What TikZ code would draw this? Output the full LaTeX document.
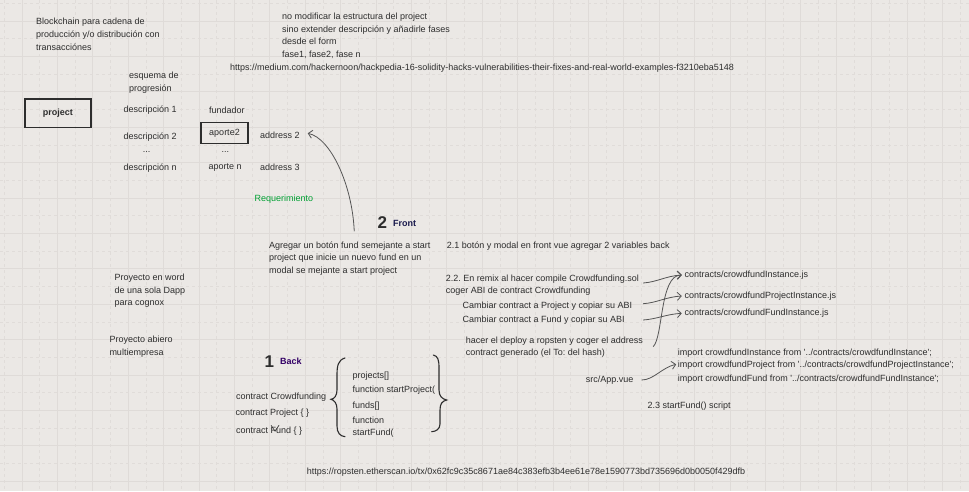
\documentclass[tikz,border=0pt]{standalone}
\usepackage{fontspec}
\setmainfont{Liberation Sans}
\usepackage{xcolor}
\usetikzlibrary{positioning,calc,arrows.meta}

\definecolor{paper}{RGB}{235,232,229}
\definecolor{gridsolid}{RGB}{223,219,216}
\definecolor{griddash}{RGB}{224,220,217}
\definecolor{ink}{RGB}{45,45,45}
\definecolor{reqgreen}{RGB}{0,160,50}
\definecolor{backpurple}{RGB}{51,0,102}
\definecolor{frontblue}{RGB}{26,26,77}
\definecolor{arrowgray}{RGB}{85,85,85}

\begin{document}
\frenchspacing
\begin{tikzpicture}[x=1pt,y=-1pt,
    txt/.style={anchor=west, inner sep=0pt, text=ink, align=left, font=\fontsize{9}{12.8}\selectfont},
    dots/.style={txt, anchor=center},
    boxed/.style={draw=ink, line width=1.5pt, inner sep=0pt, text=ink},
    bignum/.style={inner sep=0pt, text=ink, font=\fontsize{17}{17}\selectfont\bfseries},
    title/.style={txt, font=\fontsize{9}{11}\selectfont\bfseries},
    arr/.style={draw=arrowgray, line width=0.8pt, -{Straight Barb[length=4pt,width=8pt]}},
    brace/.style={draw=ink, line width=1.1pt, line cap=round}]
    % Paper
    \useasboundingbox (0,0) rectangle (969,491);
    \fill[paper] (0,0) rectangle (969,491);
    \foreach \k in {0,...,27} {
        \draw[gridsolid, line width=0.8pt] ({22+35.4*\k},0) -- ({22+35.4*\k},491);
        \draw[griddash, line width=0.6pt, dash pattern=on 3pt off 3pt] ({39.7+35.4*\k},0) -- ({39.7+35.4*\k},491);
    }
    \draw[griddash, line width=0.6pt, dash pattern=on 3pt off 3pt] (4.3,0) -- (4.3,491);
    \foreach \k in {0,...,13} {
        \draw[gridsolid, line width=0.8pt] (0,{21+35.4*\k}) -- (969,{21+35.4*\k});
        \draw[griddash, line width=0.6pt, dash pattern=on 3pt off 3pt] (0,{3.3+35.4*\k}) -- (969,{3.3+35.4*\k});
    }

    % Notes on top
    \node[txt] (chain) at (36,34) {Blockchain para cadena de\\producción y/o distribución con\\transacciónes};
    \node[txt] (nomod) at (282,35.8) {no modificar la estructura del project\\sino extender descripción y añadirle fases\\desde el form\\fase1, fase2, fase n};
    \node[txt] (medium) at (230,67.7) {https://medium.com/hackernoon/hackpedia-16-solidity-hacks-vulnerabilities-their-fixes-and-real-world-examples-f3210eba5148};

    % Project scheme
    \node[txt] (esquema) at (129,82.5) {esquema de\\progresión};
    \node[boxed, minimum width=65.7pt, minimum height=28.3pt, font=\fontsize{9}{11}\selectfont\bfseries] (project) at (57.9,113.2) {project};
    \node[txt] (desc1) at (123.3,110) {descripción 1};
    \node[txt] (desc2) at (123.3,136.7) {descripción 2};
    \node[dots] (dotsa) at (146.7,151.7) {...};
    \node[txt] (descn) at (123.3,167.7) {descripción n};
    \node[txt] (fundador) at (209,110) {fundador};
    \node[boxed, minimum width=47pt, minimum height=21pt, font=\fontsize{9}{11}\selectfont] (aporte2) at (224.5,133.2) {aporte2};
    \node[dots] (dotsb) at (225.3,151.7) {...};
    \node[txt] (aporten) at (208.3,167.7) {aporte n};
    \node[txt] (addr2) at (260,135) {address 2};
    \node[txt] (addr3) at (260,167.7) {address 3};
    \node[txt, text=reqgreen] (req) at (254.3,199.3) {Requerimiento};

    % Front
    \node[bignum] (two) at (382.3,222.7) {2};
    \node[title, text=frontblue] (front) at (393,223.7) {Front};
    \node[txt] (agregar) at (269,258.5) {Agregar un botón fund semejante a start\\project que inicie un nuevo fund en un\\modal se mejante a start project};
    \draw[arr] ($(agregar.north)+(4.5,-10)$) .. controls +(-2,-46.7) and +(22.7,4.7) .. ($(addr2.east)+(7.8,-1.7)$);

    \node[txt] (s21) at (446.7,245.7) {2.1 botón y modal en front vue agregar 2 variables back};
    \node[txt] (s22a) at (445.7,279) {2.2. En remix al hacer compile Crowdfunding.sol};
    \node[txt] (s22b) at (445.7,290.7) {coger ABI de contract Crowdfunding};
    \node[txt] (cproj) at (462.3,305.7) {Cambiar contract a Project y copiar su ABI};
    \node[txt] (cfund) at (462.3,320) {Cambiar contract a Fund y copiar su ABI};
    \node[txt] (deploy) at (465.7,341) {hacer el deploy a ropsten y coger el address};
    \node[txt] (deployb) at (465.7,352.7) {contract generado (el To: del hash)};

    \node[txt] (ci) at (684.3,275) {contracts/crowdfundInstance.js};
    \node[txt] (cpi) at (684.3,296) {contracts/crowdfundProjectInstance.js};
    \node[txt] (cfi) at (684.3,313.3) {contracts/crowdfundFundInstance.js};
    \draw[arr] ($(s22a.east)+(4,4)$) .. controls +(14,-1) and +(-16,1) .. ($(ci.west)+(-2.5,0)$);
    \draw[arr] ($(s22a.east |- cproj.east)+(4,-2)$) .. controls +(14,-1) and +(-16,1) .. ($(cpi.west)+(-2.5,0)$);
    \draw[arr] ($(s22a.east |- cfund.east)+(4,0)$) .. controls +(14,-1) and +(-16,1) .. ($(cfi.west)+(-2.5,0)$);
    \draw[arr] ($(deploy.east)+(10,5.7)$) .. controls +(10,-10) and +(-22,0) .. ($(ci.west)+(-2.5,0)$);

    \node[txt] (imp1) at (677.7,353.3) {import crowdfundInstance from \textquotesingle../contracts/crowdfundInstance\textquotesingle;};
    \node[txt] (imp2) at (677.7,365.3) {import crowdfundProject from \textquotesingle../contracts/crowdfundProjectInstance\textquotesingle;};
    \node[txt] (imp3) at (677.7,379) {import crowdfundFund from \textquotesingle../contracts/crowdfundFundInstance\textquotesingle;};
    \node[txt] (app) at (585.7,380) {src/App.vue};
    \draw[arr] ($(app.east)+(8,0)$) .. controls +(12,0) and +(-14,3) .. ($(imp2.west)+(-1.5,-1)$);
    \node[txt] (s23) at (647.3,406) {2.3 startFund() script};

    % Side notes
    \node[txt] (word) at (114.3,290.7) {Proyecto en word\\de una sola Dapp\\para cognox};
    \node[txt] (multi) at (109.3,346.3) {Proyecto abiero\\multiempresa};

    % Back
    \node[bignum] (one) at (269.3,361.7) {1};
    \node[title, text=backpurple] (back) at (280,361.7) {Back};
    \node[txt] (crowd) at (236,396.7) {contract Crowdfunding};
    \node[txt] (cproject) at (235.3,412.7) {contract Project \{ \}};
    \node[txt] (cfundc) at (236,430.7) {contract Fund \{ \}};
    \draw[ink, line width=0.6pt] ($(cfundc.west)+(35,-5.5)$) -- ++(4,6) -- ++(4,-6);
    \node[txt] (projs) at (352.3,376) {projects[]};
    \node[txt] (startp) at (352.3,390) {function startProject(};
    \node[txt] (funds) at (352.3,406) {funds[]};
    \node[txt] (func) at (352.3,420) {function};
    \node[txt] (startf) at (352.3,432.7) {startFund(};
    % Braces
    \draw[brace] (345,358) .. controls (338,360) and (337,366) .. (337,375) -- (337,390)
        .. controls (337,396) and (334,399) .. (331,399.3)
        .. controls (334,400) and (337,403) .. (337,409) -- (337,426)
        .. controls (337,433) and (340,436) .. (345,436.7);
    \draw[brace] (433.3,355) .. controls (438,356) and (439,360) .. (439,368) -- (439,390)
        .. controls (439,396) and (442,399) .. (446.7,400)
        .. controls (442,401) and (440,404) .. (440,410) -- (440,424)
        .. controls (440,429) and (436,431.5) .. (431.7,431.7);

    % Link
    \node[txt] (ropsten) at (306.7,472) {https://ropsten.etherscan.io/tx/0x62fc9c35c8671ae84c383efb3b4ee61e78e1590773bd735696d0b0050f429dfb};
\end{tikzpicture}
\end{document}
